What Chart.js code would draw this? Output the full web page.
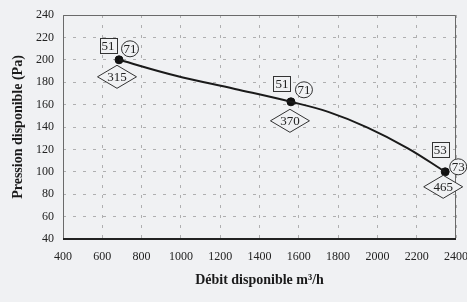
<!DOCTYPE html>
<html>
<head>
<meta charset="utf-8">
<script src="https://cdn.jsdelivr.net/npm/chart.js@4.4.1/dist/chart.umd.min.js"></script>
<style>
  html, body { margin: 0; padding: 0; background: #f0f1f3; }
  #wrap { width: 467px; height: 302px; position: relative; }
</style>
</head>
<body>
<div id="wrap"><canvas id="c" width="467" height="302"></canvas></div>
<script>
// Operating points (débit m³/h, pression Pa)
const pointFlow = [685, 1560, 2345];
const pointPressure = [200, 162.5, 100];
// Curve samples
const curveFlow = [685, 970, 1275, 1560, 1750, 1950, 2155, 2345];
const curvePressure = [200, 186, 174, 162.5, 153.5, 139.5, 121, 100];
// Labels attached to each operating point
const squareLabels = ['51', '51', '53'];
const circleLabels = ['71', '71', '73'];
const diamondLabels = ['315', '370', '465'];
// Axis text
const xTitle = 'Débit disponible m³/h';
const yTitle = 'Pression disponible (Pa)';

const SERIF = "'Liberation Serif', 'DejaVu Serif', serif";
const BG = '#f0f1f3';

// offsets of the tag shapes relative to each point (layout only)
const tagLayout = [
  { sq: [-11, -14], ci: [11, -11], di: [-2, 17] },
  { sq: [-9, -18], ci: [13, -12], di: [-1, 19] },
  { sq: [-5, -22], ci: [13, -5], di: [-2, 15] }
];

const bgPlugin = {
  id: 'bg',
  beforeDraw(chart) {
    const ctx = chart.ctx;
    ctx.save();
    ctx.fillStyle = BG;
    ctx.fillRect(0, 0, chart.width, chart.height);
    ctx.restore();
  }
};

const framePlugin = {
  id: 'frame',
  afterDatasetsDraw(chart) {
    const { ctx, chartArea: a } = chart;
    ctx.save();
    ctx.strokeStyle = '#6a6a6a';
    ctx.lineWidth = 1;
    ctx.beginPath();
    ctx.moveTo(a.left + 0.5, a.bottom);
    ctx.lineTo(a.left + 0.5, a.top + 0.5);
    ctx.lineTo(a.right - 0.5, a.top + 0.5);
    ctx.lineTo(a.right - 0.5, a.bottom);
    ctx.stroke();
    ctx.strokeStyle = '#222';
    ctx.lineWidth = 2;
    ctx.beginPath();
    ctx.moveTo(a.left, a.bottom);
    ctx.lineTo(a.right, a.bottom);
    ctx.stroke();
    ctx.restore();
  }
};

const tagPlugin = {
  id: 'tags',
  afterDatasetsDraw(chart) {
    const meta = chart.getDatasetMeta(1);
    const ctx = chart.ctx;
    ctx.save();
    ctx.font = '13px ' + SERIF;
    ctx.textAlign = 'center';
    ctx.textBaseline = 'middle';
    ctx.lineWidth = 1;
    ctx.strokeStyle = '#333';
    meta.data.forEach((el, i) => {
      const L = tagLayout[i];
      // square
      let cx = el.x + L.sq[0], cy = el.y + L.sq[1];
      ctx.fillStyle = BG;
      ctx.fillRect(cx - 8.5, cy - 7.5, 17, 15);
      ctx.strokeRect(Math.round(cx - 8.5) + 0.5, Math.round(cy - 7.5) + 0.5, 17, 15);
      ctx.fillStyle = '#222';
      ctx.fillText(squareLabels[i], cx, cy + 0.5);
      // circle
      cx = el.x + L.ci[0]; cy = el.y + L.ci[1];
      ctx.beginPath();
      ctx.ellipse(cx, cy, 8.5, 8, 0, 0, Math.PI * 2);
      ctx.fillStyle = BG;
      ctx.fill();
      ctx.stroke();
      ctx.fillStyle = '#222';
      ctx.fillText(circleLabels[i], cx, cy + 0.5);
      // diamond
      cx = el.x + L.di[0]; cy = el.y + L.di[1];
      ctx.beginPath();
      ctx.moveTo(cx - 19.5, cy);
      ctx.lineTo(cx, cy - 11.5);
      ctx.lineTo(cx + 19.5, cy);
      ctx.lineTo(cx, cy + 11.5);
      ctx.closePath();
      ctx.fillStyle = BG;
      ctx.fill();
      ctx.stroke();
      ctx.fillStyle = '#222';
      ctx.fillText(diamondLabels[i], cx, cy + 0.5);
    });
    ctx.restore();
  }
};

const curveData = curveFlow.map((x, i) => ({ x, y: curvePressure[i] }));
const pointData = pointFlow.map((x, i) => ({ x, y: pointPressure[i] }));

new Chart(document.getElementById('c'), {
  type: 'scatter',
  data: {
    datasets: [
      {
        data: curveData,
        showLine: true,
        borderColor: '#1a1a1a',
        borderWidth: 2,
        pointRadius: 0,
        tension: 0.4,
        fill: false
      },
      {
        data: pointData,
        showLine: false,
        pointRadius: 4,
        pointBackgroundColor: '#111',
        pointBorderColor: '#111'
      }
    ]
  },
  options: {
    responsive: false,
    animation: false,
    devicePixelRatio: 1,
    layout: { padding: { top: 15, right: 11, left: 0, bottom: 0 } },
    plugins: { legend: { display: false }, tooltip: { enabled: false } },
    scales: {
      x: {
        type: 'linear',
        min: 400, max: 2400,
        ticks: { stepSize: 200, padding: 11, color: '#222', font: { family: SERIF, size: 12 }, maxRotation: 0, autoSkip: false,
                 callback: v => String(v) },
        grid: { color: 'rgba(110,110,110,0.5)', lineWidth: 1, drawTicks: false },
        border: { display: false, dash: [3, 7] },
        title: { display: true, text: xTitle, color: '#1a1a1a', font: { family: SERIF, size: 14, weight: 'bold' }, padding: { top: 0, bottom: 13 } },
        afterFit(s) { s.height = 63; s.paddingLeft = 0; s.paddingRight = 0; }
      },
      y: {
        min: 40, max: 240,
        ticks: { stepSize: 20, padding: 9, color: '#222', font: { family: SERIF, size: 12 }, callback: v => String(v) },
        grid: { color: 'rgba(110,110,110,0.5)', lineWidth: 1, drawTicks: false },
        border: { display: false, dash: [3, 7] },
        title: { display: true, text: yTitle, color: '#1a1a1a', font: { family: SERIF, size: 14, weight: 'bold' }, padding: { top: 10, bottom: 0 } },
        afterFit(s) { s.width = 63; s.paddingTop = 0; s.paddingBottom = 0; }
      }
    }
  },
  plugins: [bgPlugin, framePlugin, tagPlugin]
});
</script>
</body>
</html>
